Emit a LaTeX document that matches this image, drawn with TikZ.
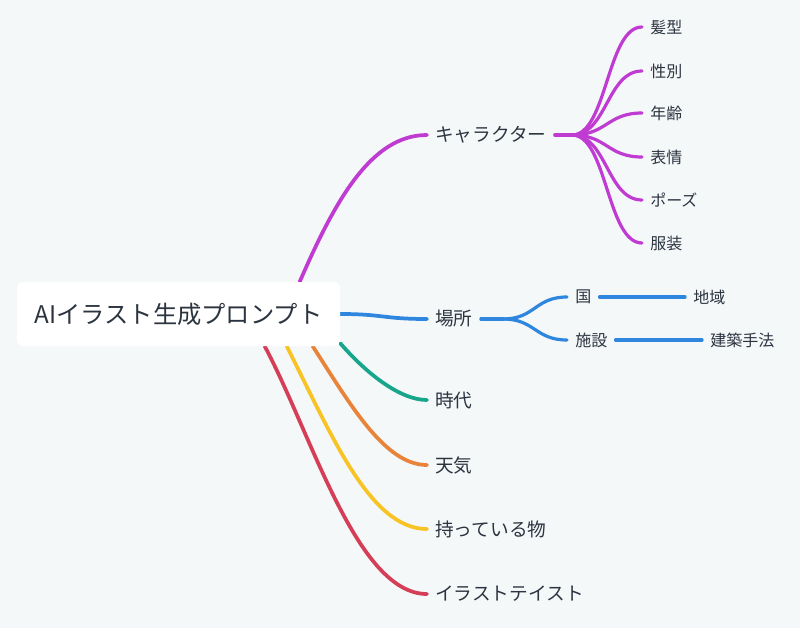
\documentclass[tikz,border=0pt]{standalone}
\usepackage{fontspec}
\setmainfont{Noto Sans CJK JP}
\usetikzlibrary{calc}
\pgfdeclarelayer{back}
\pgfdeclarelayer{bg}
\pgfsetlayers{back,bg,main}
\definecolor{bgc}{HTML}{F5F8F9}
\definecolor{txt}{HTML}{2C3440}
\definecolor{cpur}{HTML}{BF3BD1}
\definecolor{cblu}{HTML}{2E86DE}
\definecolor{ctea}{HTML}{17A58C}
\definecolor{cora}{HTML}{E8843A}
\definecolor{cyel}{HTML}{F7C325}
\definecolor{cred}{HTML}{D43F57}
\begin{document}
\begin{tikzpicture}[x=0.75pt,y=-0.75pt,
 lbl/.style={anchor=west,inner xsep=6pt,inner ysep=2pt,text=txt,font=\fontsize{14}{16}\selectfont},
 leaf/.style={anchor=west,inner xsep=6pt,inner ysep=2pt,text=txt,font=\fontsize{12}{14}\selectfont},
 br/.style={line width=2.8pt,line cap=round},
 sub/.style={line width=2.4pt,line cap=round}]
\begin{pgfonlayer}{back}
\fill[bgc] (0,0) rectangle (800,628);
\end{pgfonlayer}
\useasboundingbox (0,0) rectangle (800,628);
\node[fill=white,rounded corners=4pt,minimum width=242.25pt,minimum height=48pt,text=txt,font=\fontsize{18.2}{21}\selectfont] (root) at (178.5,314) {AIイラスト生成プロンプト};
\node[lbl] (chara) at (427,135) {キャラクター};
\node[lbl] (basho) at (427,319) {場所};
\node[lbl] (jidai) at (427,400) {時代};
\node[lbl] (tenki) at (427,465) {天気};
\node[lbl] (motsu) at (427,529) {持っている物};
\node[lbl] (taste) at (427,594) {イラストテイスト};
\node[leaf] (l1) at (642,27) {髪型};
\node[leaf] (l2) at (642,71) {性別};
\node[leaf] (l3) at (642,113) {年齢};
\node[leaf] (l4) at (642,157) {表情};
\node[leaf] (l5) at (642,200) {ポーズ};
\node[leaf] (l6) at (642,243) {服装};
\node[leaf] (kuni) at (567,297) {国};
\node[leaf] (shisetsu) at (567,340) {施設};
\node[leaf] (chiiki) at (685,297) {地域};
\node[leaf] (kenchiku) at (702,340) {建築手法};
\coordinate (cf) at (572,135);
\coordinate (bf) at (503,319);
\begin{pgfonlayer}{bg}
\draw[br,cpur] ($(root.north west)+(283,0)$) .. controls +(36,-83) and +(-55,0) .. (chara.west);
\draw[br,cblu] (root.east) .. controls +(43,0) and +(-44,0) .. (basho.west);
\draw[br,ctea] ($(root.south east)+(0,-3)$) .. controls +(26,30) and +(-27,0) .. (jidai.west);
\draw[br,cora] ($(root.south west)+(296,0)$) .. controls +(38,59) and +(-42,0) .. (tenki.west);
\draw[br,cyel] ($(root.south west)+(270,0)$) .. controls +(45,89) and +(-57,0) .. (motsu.west);
\draw[br,cred] ($(root.south west)+(248,0)$) .. controls +(47,88) and +(-70,0) .. (taste.west);
\end{pgfonlayer}
\draw[sub,cpur] (chara.east) -- (cf);
\foreach \l in {l1,l2,l3,l4,l5,l6}{
  \draw[sub,cpur] (cf) .. controls +(35,0) and +(-35,0) .. (\l.west);
}
\draw[sub,cblu] (basho.east) -- (bf);
\draw[sub,cblu] (bf) .. controls +(32,0) and +(-32,0) .. (kuni.west);
\draw[sub,cblu] (bf) .. controls +(32,0) and +(-32,0) .. (shisetsu.west);
\draw[sub,cblu] (kuni.east) -- (chiiki.west);
\draw[sub,cblu] (shisetsu.east) -- (kenchiku.west);
\end{tikzpicture}
\end{document}
